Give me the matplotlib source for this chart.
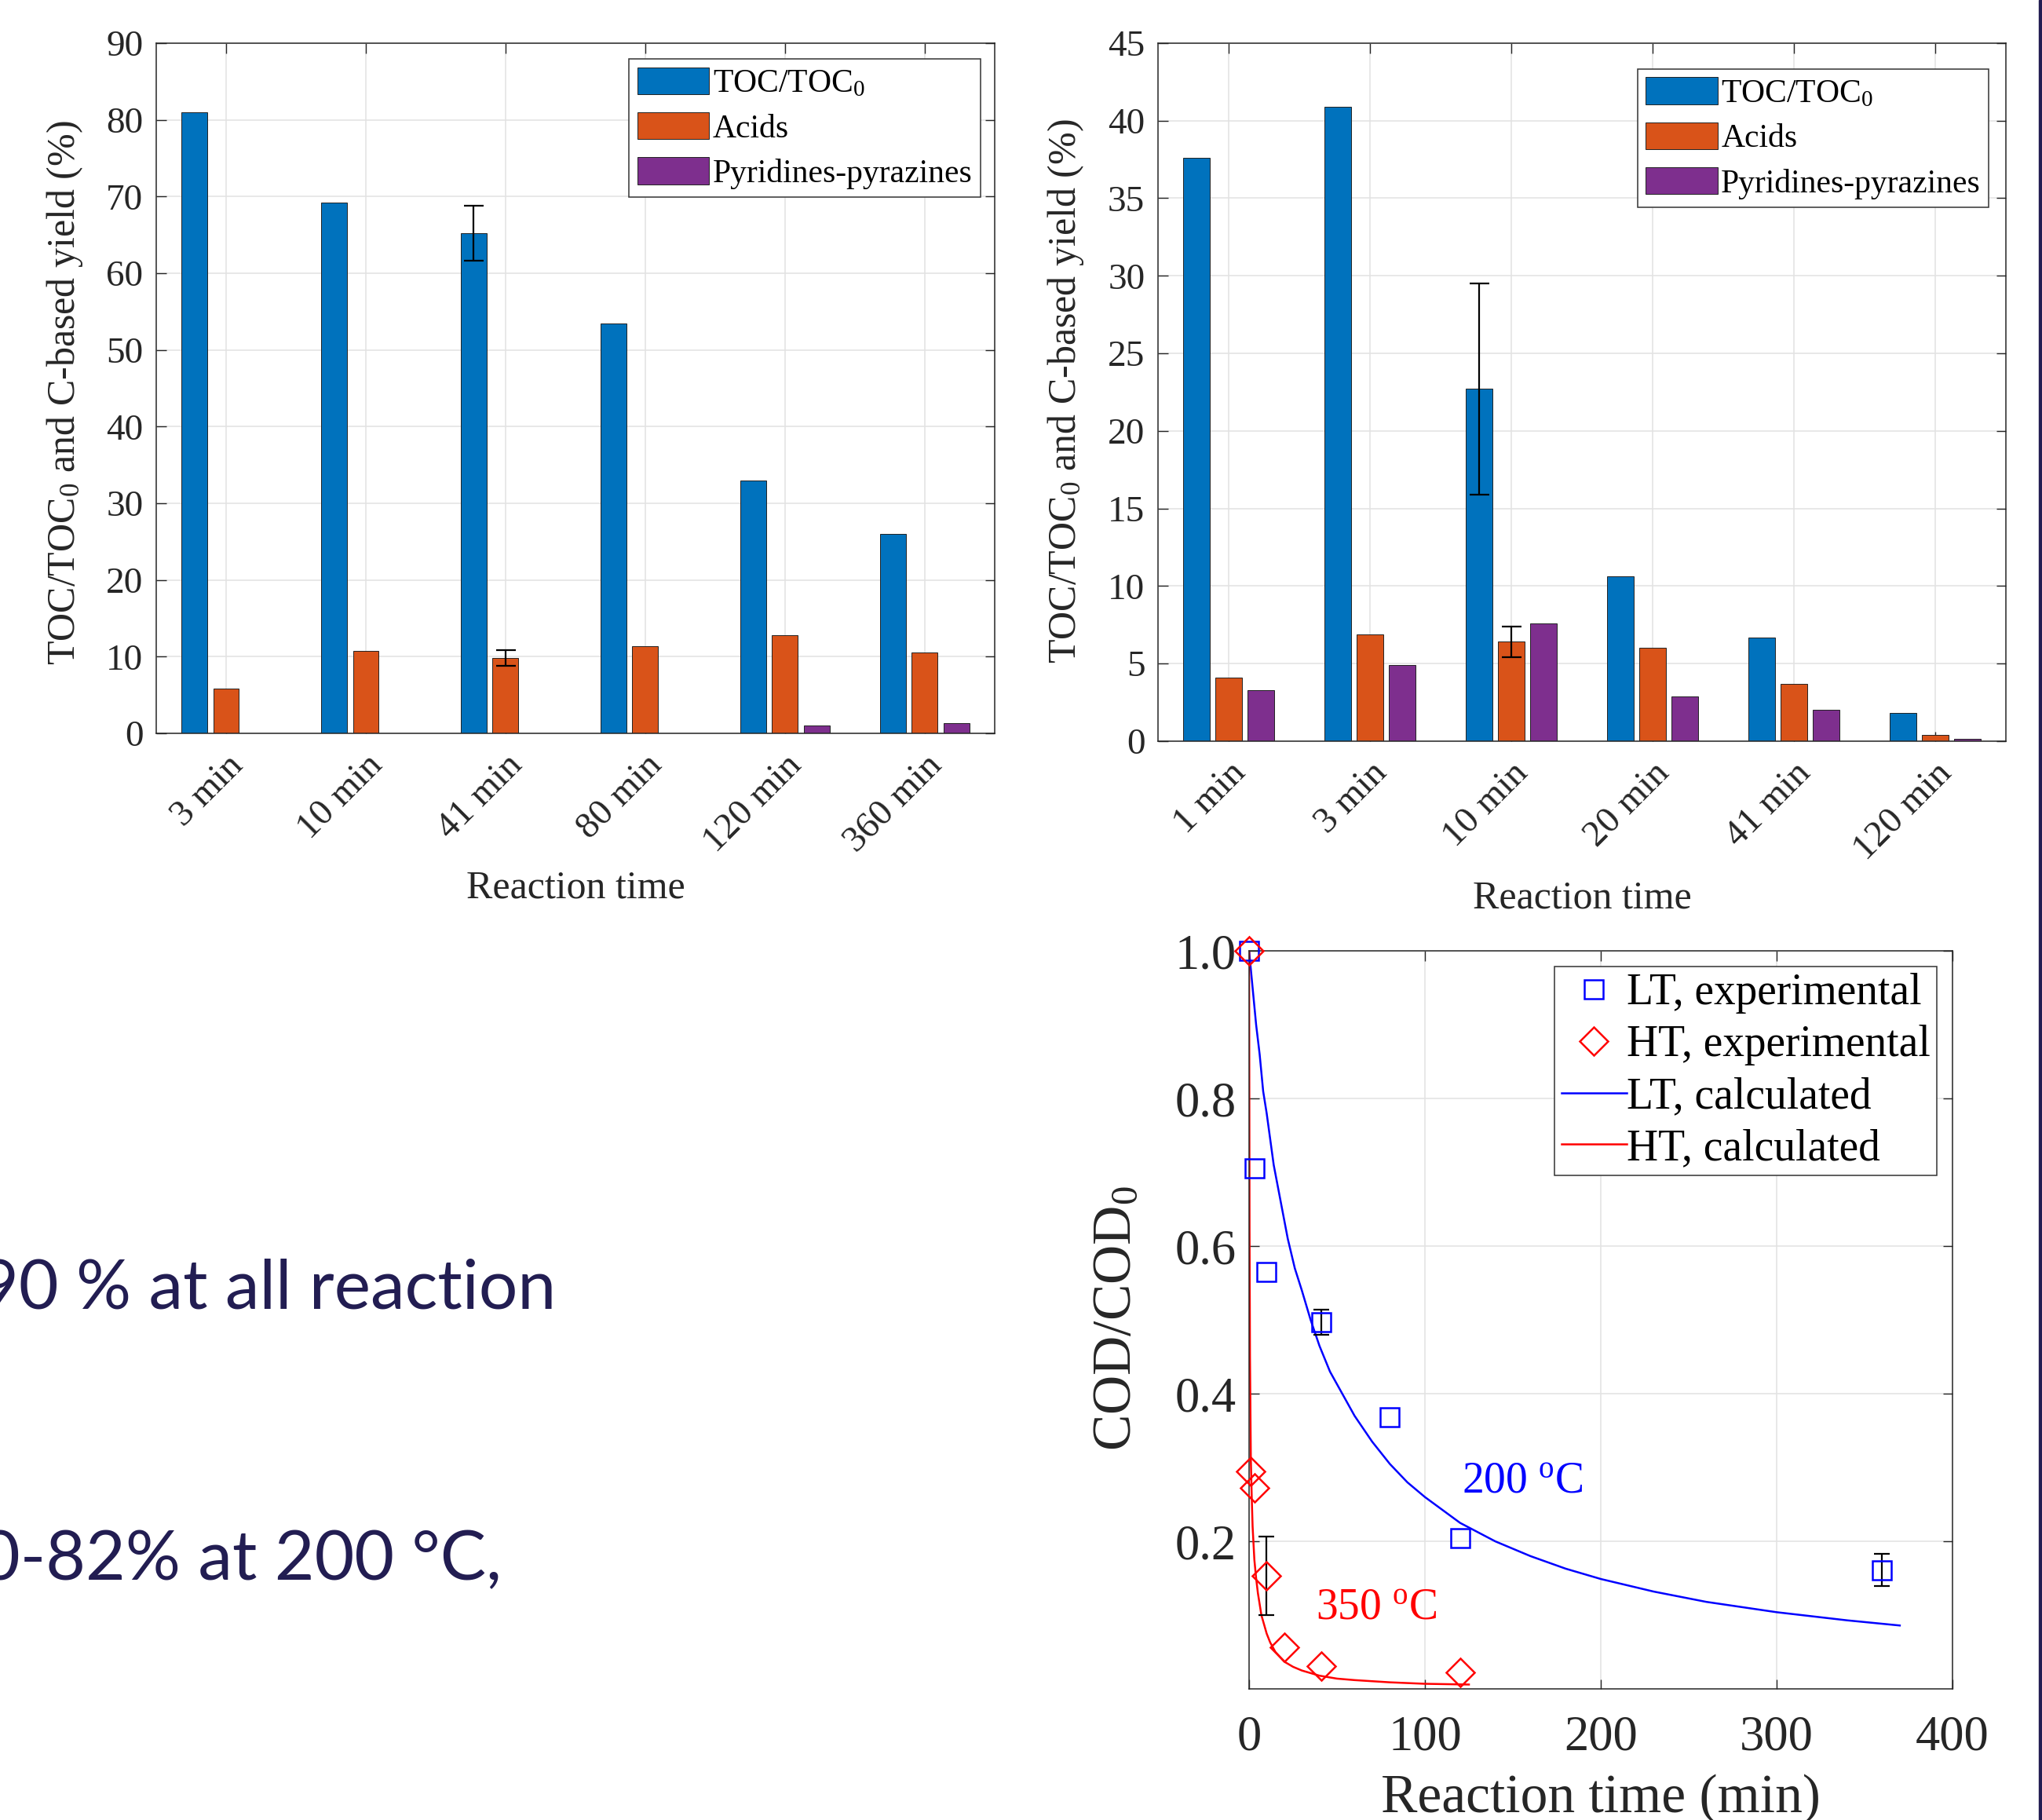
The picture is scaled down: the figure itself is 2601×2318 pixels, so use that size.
import numpy as np
import matplotlib
matplotlib.use("Agg")
import matplotlib.pyplot as plt
from matplotlib.patches import Rectangle

plt.rcParams["font.family"] = ["Liberation Serif", "DejaVu Serif"]
plt.rcParams["mathtext.fontset"] = "custom"
plt.rcParams["mathtext.rm"] = "Liberation Serif"
plt.rcParams["mathtext.it"] = "Liberation Serif:italic"
plt.rcParams["mathtext.bf"] = "Liberation Serif:bold"

# top left: 200 C runs
lt_labels = ["3 min", "10 min", "41 min", "80 min", "120 min", "360 min"]
lt_toc = [81.0, 69.2, 65.2, 53.4, 33.0, 26.0]
lt_acids = [5.8, 10.7, 9.8, 11.4, 12.8, 10.5]
lt_pyr = [0.0, 0.0, 0.0, 0.0, 1.0, 1.3]
lt_toc_err = [0, 0, 3.6, 0, 0, 0]
lt_acids_err = [0, 0, 1.0, 0, 0, 0]

# top right: 350 C runs
ht_labels = ["1 min", "3 min", "10 min", "20 min", "41 min", "120 min"]
ht_toc = [37.6, 40.9, 22.7, 10.6, 6.7, 1.8]
ht_acids = [4.1, 6.9, 6.4, 6.0, 3.7, 0.4]
ht_pyr = [3.3, 4.9, 7.6, 2.9, 2.0, 0.15]
ht_toc_err = [0, 0, 6.8, 0, 0, 0]
ht_acids_err = [0, 0, 1.0, 0, 0, 0]

# bottom: COD/COD0
lt_exp_t = [0, 3, 10, 41, 80, 120, 360]
lt_exp_v = [1.0, 0.705, 0.565, 0.497, 0.368, 0.204, 0.161]
lt_exp_err = [0, 0, 0, 0.017, 0, 0, 0.022]
ht_exp_t = [0, 1, 3, 10, 20, 41, 120]
ht_exp_v = [1.0, 0.295, 0.272, 0.153, 0.057, 0.031, 0.022]
ht_exp_err = [0, 0, 0, 0.053, 0, 0, 0]

lt_calc_t = [0, 2, 4, 6, 8, 10, 14, 18, 22, 26, 30, 35, 40, 46, 53, 60, 70, 80,
             90, 100, 120, 140, 160, 180, 200, 230, 260, 300, 340, 370]
lt_calc_v = [1.0, 0.95, 0.90, 0.86, 0.81, 0.78, 0.71, 0.66, 0.61, 0.57, 0.54, 0.50,
             0.465, 0.43, 0.40, 0.37, 0.335, 0.305, 0.28, 0.26, 0.225, 0.20, 0.18,
             0.163, 0.149, 0.132, 0.118, 0.104, 0.093, 0.086]
ht_calc_t = [0, 0.25, 0.5, 1, 1.5, 2, 3, 4, 5, 7, 10, 12, 15, 20, 25, 30, 40, 50,
             60, 80, 100, 125]
ht_calc_v = [1.0, 0.62, 0.45, 0.31, 0.26, 0.22, 0.175, 0.15, 0.13, 0.10, 0.075,
             0.063, 0.05, 0.037, 0.03, 0.025, 0.018, 0.014, 0.012, 0.009, 0.007, 0.006]

series_names = ["TOC/TOC$_0$", "Acids", "Pyridines-pyrazines"]
bar_colors = ["#0072BD", "#D95319", "#7E2F8E"]

slide_lines = ["90 % at all reaction", "0-82% at 200 °C,"]

AX_COL = "#262626"
GRID_COL = "#e2e2e2"


def style_axes(ax, fs):
    for s in ax.spines.values():
        s.set_color(AX_COL)
        s.set_linewidth(1.1)
    ax.tick_params(direction="in", top=True, right=True, length=9, width=1.0,
                   colors=AX_COL, labelsize=fs, labelcolor=AX_COL)
    ax.grid(True, color=GRID_COL, linewidth=1.1)
    ax.set_axisbelow(True)


def bar_chart(ax, labels, toc, acids, pyr, toc_err, acids_err, ymax, ystep):
    x = np.arange(1, len(labels) + 1)
    w = 0.185
    off = 0.228
    for k, vals in enumerate([toc, acids, pyr]):
        ax.bar(x + (k - 1) * off, vals, w, color=bar_colors[k], edgecolor="#222222",
               linewidth=0.7, label=series_names[k], zorder=2)
    for k, (vals, err) in enumerate([(toc, toc_err), (acids, acids_err)]):
        for i in range(len(vals)):
            if err[i] > 0:
                ax.errorbar(x[i] + (k - 1) * off, vals[i], yerr=err[i], color="black",
                            capsize=9, elinewidth=1.6, capthick=1.6, zorder=3)
    ax.set_xlim(0.5, len(labels) + 0.5)
    ax.set_ylim(0, ymax)
    ax.set_yticks(np.arange(0, ymax + 1, ystep))
    ax.set_xticks(x)
    style_axes(ax, 34)
    ax.set_xticklabels(labels, rotation=45, ha="right", va="top", rotation_mode="anchor")
    ax.tick_params(axis="x", pad=14)
    ax.tick_params(axis="y", pad=12)
    ax.set_xlabel("Reaction time", fontsize=36, color=AX_COL)
    ax.set_ylabel("TOC/TOC$_0$ and C-based yield (%)", fontsize=36, color=AX_COL)


def bar_legend(ax, anchor):
    leg = ax.legend(loc="upper right", bbox_to_anchor=anchor, borderaxespad=0,
                    fontsize=30, handlelength=2.2, handleheight=0.9, handletextpad=0.1,
                    labelspacing=0.4, borderpad=0.25, fancybox=False, framealpha=1,
                    edgecolor="#333333")
    leg.get_frame().set_linewidth(1.1)


fig = plt.figure(figsize=(26.01, 23.18), dpi=100)

ax1 = fig.add_axes([0.0765, 0.5971, 0.4106, 0.3792])
bar_chart(ax1, lt_labels, lt_toc, lt_acids, lt_pyr, lt_toc_err, lt_acids_err, 90, 10)
ax1.xaxis.set_label_coords(0.5, -0.198)
ax1.yaxis.set_label_coords(-0.085, 0.494)
bar_legend(ax1, (0.983, 0.977))

ax2 = fig.add_axes([0.5671, 0.5928, 0.4152, 0.3835])
bar_chart(ax2, ht_labels, ht_toc, ht_acids, ht_pyr, ht_toc_err, ht_acids_err, 45, 5)
ax2.xaxis.set_label_coords(0.5, -0.199)
ax2.yaxis.set_label_coords(-0.085, 0.502)
bar_legend(ax2, (0.98, 0.963))

ax3 = fig.add_axes([0.6117, 0.0720, 0.3445, 0.4055])
for i in range(len(lt_exp_t)):
    if lt_exp_err[i] > 0:
        ax3.errorbar(lt_exp_t[i], lt_exp_v[i], yerr=lt_exp_err[i], color="black",
                     capsize=7, elinewidth=1.6, capthick=1.6, zorder=3)
for i in range(len(ht_exp_t)):
    if ht_exp_err[i] > 0:
        ax3.errorbar(ht_exp_t[i], ht_exp_v[i], yerr=ht_exp_err[i], color="black",
                     capsize=7, elinewidth=1.6, capthick=1.6, zorder=3)
ax3.plot(lt_exp_t, lt_exp_v, "s", ms=17, mfc="none", mec="blue", mew=1.8,
         label="LT, experimental", zorder=4, clip_on=False)
ax3.plot(ht_exp_t, ht_exp_v, "D", ms=18, mfc="none", mec="red", mew=1.8,
         label="HT, experimental", zorder=4, clip_on=False)
ax3.plot(lt_calc_t, lt_calc_v, "-", color="blue", lw=1.8, label="LT, calculated", zorder=2)
ax3.plot(ht_calc_t, ht_calc_v, "-", color="red", lw=1.8, label="HT, calculated", zorder=2)
ax3.text(121, 0.267, "200 $^{\\mathrm{o}}$C", color="blue", fontsize=40)
ax3.text(38, 0.095, "350 $^{\\mathrm{o}}$C", color="red", fontsize=40)
ax3.set_xlim(0, 400)
ax3.set_ylim(0, 1.0)
ax3.set_xticks([0, 100, 200, 300, 400])
ax3.set_yticks([0.2, 0.4, 0.6, 0.8, 1.0])
ax3.set_yticklabels(["0.2", "0.4", "0.6", "0.8", "1.0"])
style_axes(ax3, 45)
ax3.tick_params(axis="x", pad=24)
ax3.tick_params(axis="y", pad=12)
ax3.set_xlabel("Reaction time (min)", fontsize=50, color=AX_COL)
ax3.set_ylabel("COD/COD$_0$", fontsize=50, color=AX_COL)
ax3.xaxis.set_label_coords(0.5, -0.115)
ax3.yaxis.set_label_coords(-0.152, 0.502)
leg3 = ax3.legend(loc="upper right", bbox_to_anchor=(0.978, 0.979), borderaxespad=0,
                  fontsize=40, handlelength=1.5, handletextpad=0.0, labelspacing=0.25,
                  borderpad=0.15, fancybox=False, framealpha=1, edgecolor="#333333")
leg3.get_frame().set_linewidth(1.1)
leg3.set_zorder(10)

# slide text left of the charts
slide_kw = dict(family=["Lato", "DejaVu Sans"], fontsize=63, color="#221D52",
                ha="right", va="baseline")
fig.text(0.2722, 0.2809, slide_lines[0], **slide_kw)
fig.text(0.2457, 0.1320, slide_lines[1], **slide_kw)

fig.patches.append(Rectangle((0.9985, 0), 0.0015, 1, transform=fig.transFigure,
                             color="#221D52", zorder=10))

fig.savefig("out.png", dpi=100)
